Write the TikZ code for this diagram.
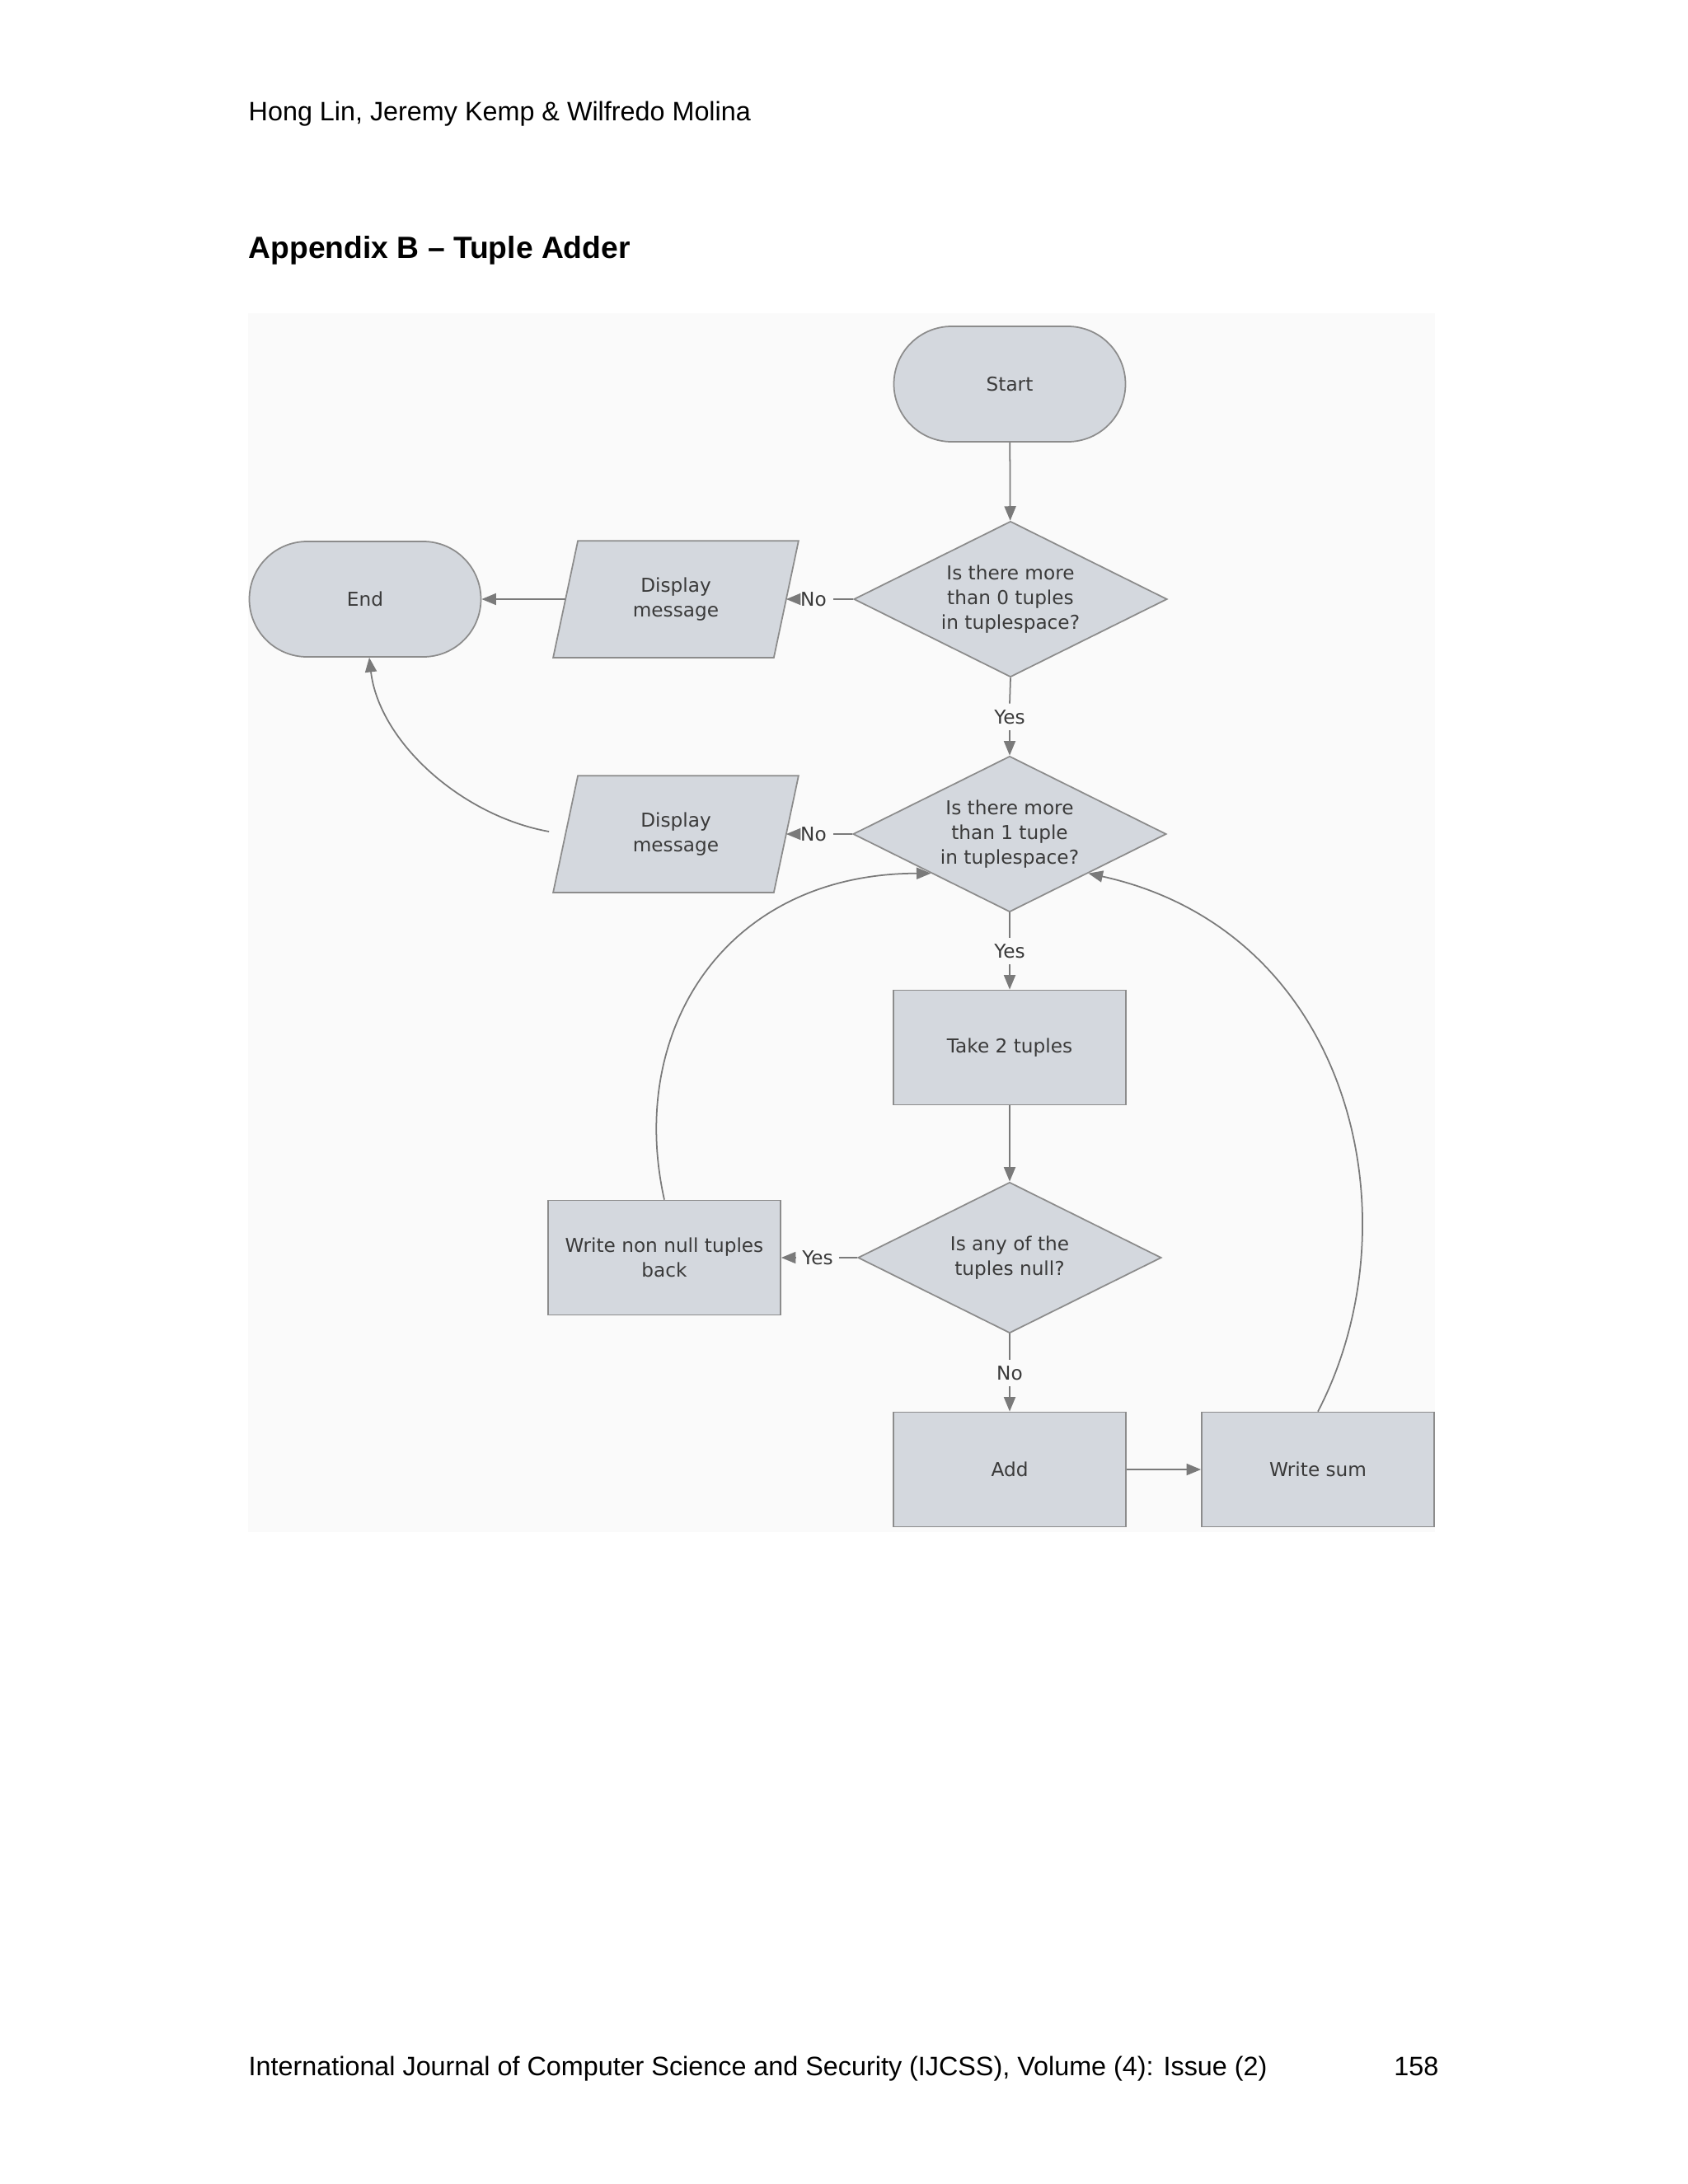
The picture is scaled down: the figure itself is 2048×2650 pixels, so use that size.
\documentclass[tikz,border=0pt]{standalone}
\usepackage{fontspec}
\setmainfont{Liberation Sans}
\newfontfamily\vfont{DejaVu Sans}
\usetikzlibrary{shapes.geometric,shapes.misc,arrows.meta,calc}
\definecolor{boxfill}{HTML}{D4D8DE}
\definecolor{boxline}{HTML}{8C8C8C}
\definecolor{linec}{HTML}{7A7A7A}
\definecolor{txt}{HTML}{3A3A3A}
\begin{document}
\begin{tikzpicture}[x=0.1mm,y=-0.1mm,
  base/.style={fill=boxfill,draw=boxline,line width=0.5pt,font=\vfont\fontsize{6.6}{8.6}\selectfont,text=txt,align=center,inner sep=0pt},
  term/.style={base,rounded rectangle,minimum width=28.1mm,minimum height=14mm},
  proc/.style={base,rectangle,minimum width=28.2mm,minimum height=13.9mm},
  dec/.style={base,diamond,aspect=2.01,minimum width=38mm,minimum height=18.9mm},
  io/.style={base,draw=none,fill=none,minimum width=26.6mm,minimum height=14mm},
  lab/.style={font=\vfont\fontsize{6.6}{8}\selectfont,text=txt,inner sep=2pt},
  conn/.style={draw=linec,line width=0.5pt},
  arr/.style={conn,-{Triangle[length=5pt,width=4pt]}},
  page/.style={inner sep=0pt,font=\fontsize{9.2}{11}\selectfont},
]
\useasboundingbox (0,0) rectangle (2048,2650);
\fill[white] (0,0) rectangle (2048,2650);
\fill[black!2] (301,380) rectangle (1741,1859);
\node[page,anchor=base west] (hdr) at (301,146) {Hong Lin, Jeremy Kemp \& Wilfredo Molina};
\node[page,anchor=base west,font=\bfseries\fontsize{10.6}{13}\selectfont] (ttl) at (301,313) {Appendix B -- Tuple Adder};
\node[page,anchor=base west] (ftr) at (301,2518) {International Journal of Computer Science and Security (IJCSS), Volume (4): Issue (2)};
\node[page,anchor=base east] (pg) at (1746,2518) {158};

\node[term] (start) at (1225,466) {Start};
\node[dec] (d1) at (1226,727) {Is there more\\than 0 tuples\\in tuplespace?};
\node[term] (end) at (443,727) {End};
\node[io] (disp1) at (820,727) {};
\node[dec] (d2) at (1225,1012) {Is there more\\than 1 tuple\\in tuplespace?};
\node[io] (disp2) at (820,1012) {};
\node[proc] (take) at (1225,1271) {Take 2 tuples};
\node[dec,minimum width=36.8mm,minimum height=18.3mm] (d3) at (1225,1526) {Is any of the\\tuples null?};
\node[proc] (wn) at (806,1526) {Write non null tuples\\back};
\node[proc] (add) at (1225,1783) {Add};
\node[proc] (ws) at (1599,1783) {Write sum};

\foreach \n in {disp1,disp2}{
  \filldraw[fill=boxfill,draw=boxline,line width=0.5pt]
    ($(\n.north west)+(15,0)$) -- ($(\n.north east)+(15,0)$) --
    ($(\n.south east)+(-15,0)$) -- ($(\n.south west)+(-15,0)$) -- cycle;
  \node[base,fill=none,draw=none] at (\n) {Display\\message};
}

\node[lab] (no1) at (987,727) {No};
\node[lab] (yes1) at (1225,870) {Yes};
\node[lab] (no2) at (987,1012) {No};
\node[lab] (yes2) at (1225,1154) {Yes};
\node[lab] (yes3) at (992,1526) {Yes};
\node[lab] (no3) at (1225,1666) {No};

\draw[arr] (start) -- (d1);
\draw[conn] (d1.west) -- (no1.east);
\draw[arr] (no1.west) -- (disp1.east);
\draw[arr] (disp1.west) -- (end.east);
\draw[conn] (d1.south) -- (yes1.north);
\draw[arr] (yes1.south) -- (d2.north);
\draw[conn] (d2.west) -- (no2.east);
\draw[arr] (no2.west) -- (disp2.east);
\coordinate (d2s) at ($(disp2.west)+(-20,-3)$);
\coordinate (endb) at ($(end.south)+(5,0)$);
\draw[arr] (d2s) .. controls (560,990) and (460,900) .. (endb);
\draw[conn] (d2.south) -- (yes2.north);
\draw[arr] (yes2.south) -- (take.north);
\draw[arr] (take) -- (d3);
\draw[conn] (d3.west) -- (yes3.east);
\draw[arr] (yes3.west) -- (wn.east);
\draw[conn] (d3.south) -- (no3.north);
\draw[arr] (no3.south) -- (add.north);
\draw[arr] (add) -- (ws);
\coordinate (d2l) at ($(d2.west)!0.5!(d2.south)$);
\coordinate (d2r) at ($(d2.east)!0.5!(d2.south)$);
\draw[arr] (wn.north) .. controls (760,1250) and (880,1060) .. (d2l);
\draw[arr] (ws.north) .. controls (1720,1480) and (1640,1130) .. (d2r);
\end{tikzpicture}
\end{document}
